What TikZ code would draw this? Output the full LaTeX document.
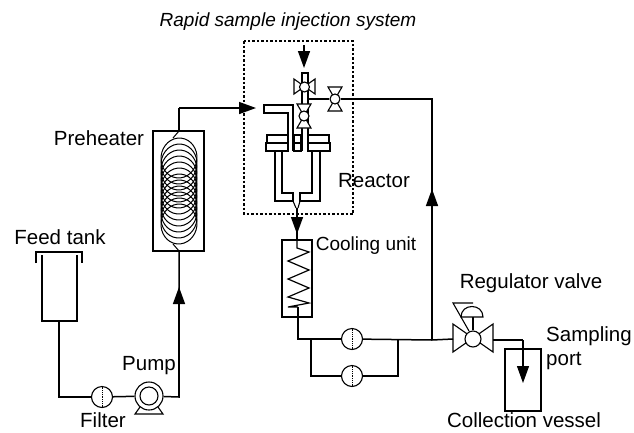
\documentclass[tikz,border=0pt]{standalone}
\usepackage{fontspec}
\setmainfont{Liberation Sans}
\usetikzlibrary{arrows.meta}
\tikzset{
	pipe/.style={line width=1.5pt},
	thin pipe/.style={line width=1.1pt},
	flow/.style={line width=1.5pt,-{Triangle[length=17pt,width=12pt]}},
	filterdisc/.style={circle,draw,line width=1.1pt,minimum size=21pt,inner sep=0pt,fill=white,
		path picture={\draw[densely dotted,line width=.8pt] (path picture bounding box.north) -- (path picture bounding box.south);}},
	hub/.style={circle,draw,line width=1.1pt,inner sep=0pt,fill=white},
	label/.style={font=\fontsize{20.5}{22}\selectfont,inner sep=0pt}
}
\begin{document}
\begin{tikzpicture}[x=1pt,y=-1pt]
	\useasboundingbox (0,0) rectangle (634,432);
	% labels
	\node[label,font=\fontsize{19}{22}\selectfont\itshape] (title) at (288,22) {Rapid sample injection system};
	\node[label] (preheaterlabel) at (99,138) {Preheater};
	\node[label] (tanklabel) at (60,237) {Feed tank};
	\node[label] (filterlabel) at (103,420) {Filter};
	\node[label] (pumplabel) at (149,366) {Pump};
	\node[label] (reactorlabel) at (374,181) {Reactor};
	\node[label,font=\fontsize{19}{22}\selectfont] (coolinglabel) at (366,246) {Cooling unit};
	\node[label] (regulatorlabel) at (531,283) {Regulator valve};
	\node[label,anchor=west] (samplinglabel) at (546,336) {Sampling};
	\node[label,anchor=west] (portlabel) at (546,361) {port};
	\node[label] (vessellabel) at (524,420) {Collection vessel};
	% injection system box
	\draw[line width=1.1pt,dash pattern=on 2.5pt off 2pt] (244,41) rectangle (353,214);
	% feed tank
	\draw[pipe] (42,255) -- (42,321) -- (77,321) -- (77,255);
	\draw[thin pipe] (36,263) -- (36,252) -- (82,252) -- (82,263);
	\coordinate (tankout) at (59,321);
	\coordinate (feedcorner) at (59,397);
	\node[filterdisc] (feedfilter) at (102,397) {};
	% pump
	\node[circle,draw,line width=1.1pt,minimum size=28pt,inner sep=0pt,fill=white] (pump) at (149,396) {};
	\node[circle,draw,line width=1.1pt,minimum size=18pt,inner sep=0pt] (pumpcore) at (149,396) {};
	\draw[thin pipe] (140,407) -- (135,414) -- (163,414) -- (158,407);
	\coordinate (pumpcorner) at (179,397);
	\coordinate (heaterin) at (179,251);
	\coordinate (heaterout) at (179,131);
	\coordinate (heatercorner) at (179,108);
	\coordinate (reactorin) at (256,108);
	\draw[pipe] (tankout) -- (feedcorner) -- (feedfilter);
	\draw[pipe] (feedfilter) -- (pump);
	\draw[pipe] (pump) -- (pumpcorner) -- (heaterin);
	\draw[flow] (pumpcorner) -- (179,287);
	% preheater
	\draw[pipe] (153,131) rectangle (204,251);
	\draw[pipe] (heaterout) -- (heatercorner);
	\draw[flow] (heatercorner) -- (reactorin);
	\draw[line width=1pt] (179,131) -- (173,138);
	\draw[line width=1pt] (179,251) -- (173,244);
	\foreach \y in {158,164,...,224}
	\draw[line width=1pt,rotate around={-6:(179,\y)}] (179,\y) ellipse (18 and 20);
	% reactor
	\draw[thin pipe] (293,151) -- (293,105) -- (264,105) -- (264,113) -- (288,113) -- (288,135);
	\draw[thin pipe] (302,151) -- (302,73) -- (308,73) -- (308,151);
	\foreach \x/\w in {267/21,294/7,308/21}
	\draw[thin pipe] (\x,135) rectangle ++(\w,8);
	\foreach \x/\w in {266/22,294/7,308/22}
	\draw[thin pipe] (\x,143) rectangle ++(\w,8);
	\draw[thin pipe] (275,151) -- (275,201) -- (293,201) -- (293,193) -- (282,193) -- (282,151);
	\draw[thin pipe] (320,151) -- (320,201) -- (300,201) -- (300,193) -- (312,193) -- (312,151);
	\draw[thin pipe] (293,201) -- (296,208);
	\draw[thin pipe] (300,201) -- (298,208);
	\coordinate (reactorout) at (297,208);
	\coordinate (coolerin) at (297,240);
	\draw[pipe] (reactorout) -- (coolerin);
	\draw[flow] (reactorout) -- (297,234);
	\coordinate (injection) at (304,45);
	\draw[flow] (injection) -- (304,68);
	% valves on the reactor head
	\foreach \x/\y/\n in {304/116/headvalve,335/99/ventvalve}{
		\draw[thin pipe,fill=white] (\x-7,\y-12) -- (\x+7,\y-12) -- (\x-7,\y+12) -- (\x+7,\y+12) -- cycle;
		\node[hub,minimum size=10pt] (\n) at (\x,\y) {};
	}
	\draw[thin pipe,fill=white] (294,79) -- (294,94) -- (315,79) -- (315,94) -- cycle;
	\node[hub,minimum size=10pt] (threeway) at (304.5,87) {};
	% product line
	\coordinate (headout) at (308,99);
	\coordinate (linecorner) at (432,99);
	\coordinate (linejoin) at (432,340);
	\draw[pipe] (headout) -- (ventvalve);
	\draw[pipe] (ventvalve) -- (linecorner) -- (linejoin);
	\draw[flow] (linejoin) -- (432,189);
	% cooling unit
	\draw[pipe] (282,240) rectangle (312,317);
	\draw[line width=1.2pt] (coolerin) -- (297,248) -- (309,252) -- (288,261) -- (309,270) -- (288,279) -- (309,288) -- (288,297) -- (309,303) -- (288,307) -- (298,307);
	\coordinate (coolerout) at (298,307);
	\coordinate (coolercorner) at (298,339);
	\coordinate (branch) at (311,339);
	\coordinate (branchcorner) at (311,376);
	\coordinate (mergecorner) at (398,376);
	\coordinate (merge) at (398,339);
	\node[filterdisc] (upperfilter) at (352,339) {};
	\node[filterdisc] (lowerfilter) at (352,376) {};
	\draw[pipe] (coolerout) -- (coolercorner) -- (upperfilter);
	\draw[thin pipe] (branch) -- (branchcorner) -- (lowerfilter);
	\draw[thin pipe] (lowerfilter) -- (mergecorner) -- (merge);
	\draw[pipe] (upperfilter) -- (linejoin);
	% regulator valve
	\draw[thin pipe,fill=white] (453,324) -- (453,352) -- (493,324) -- (493,352) -- cycle;
	\node[hub,minimum size=16pt] (regulator) at (473,339) {};
	\draw[thin pipe] (regulator.north) -- (473,317);
	\draw[thin pipe,fill=white] (461,317) .. controls (461,303) and (483,303) .. (483,317) -- cycle;
	\draw[thin pipe] (469,331) -- (453,303) -- (473,303);
	\draw[pipe] (linejoin) -- (453,339);
	% collection vessel
	\draw[thin pipe] (505,349) rectangle (541,411);
	\coordinate (regout) at (493,340);
	\coordinate (portcorner) at (523,340);
	\coordinate (porttip) at (523,383);
	\draw[thin pipe] (regout) -- (portcorner);
	\draw[flow,line width=1.1pt] (portcorner) -- (porttip);
\end{tikzpicture}
\end{document}
